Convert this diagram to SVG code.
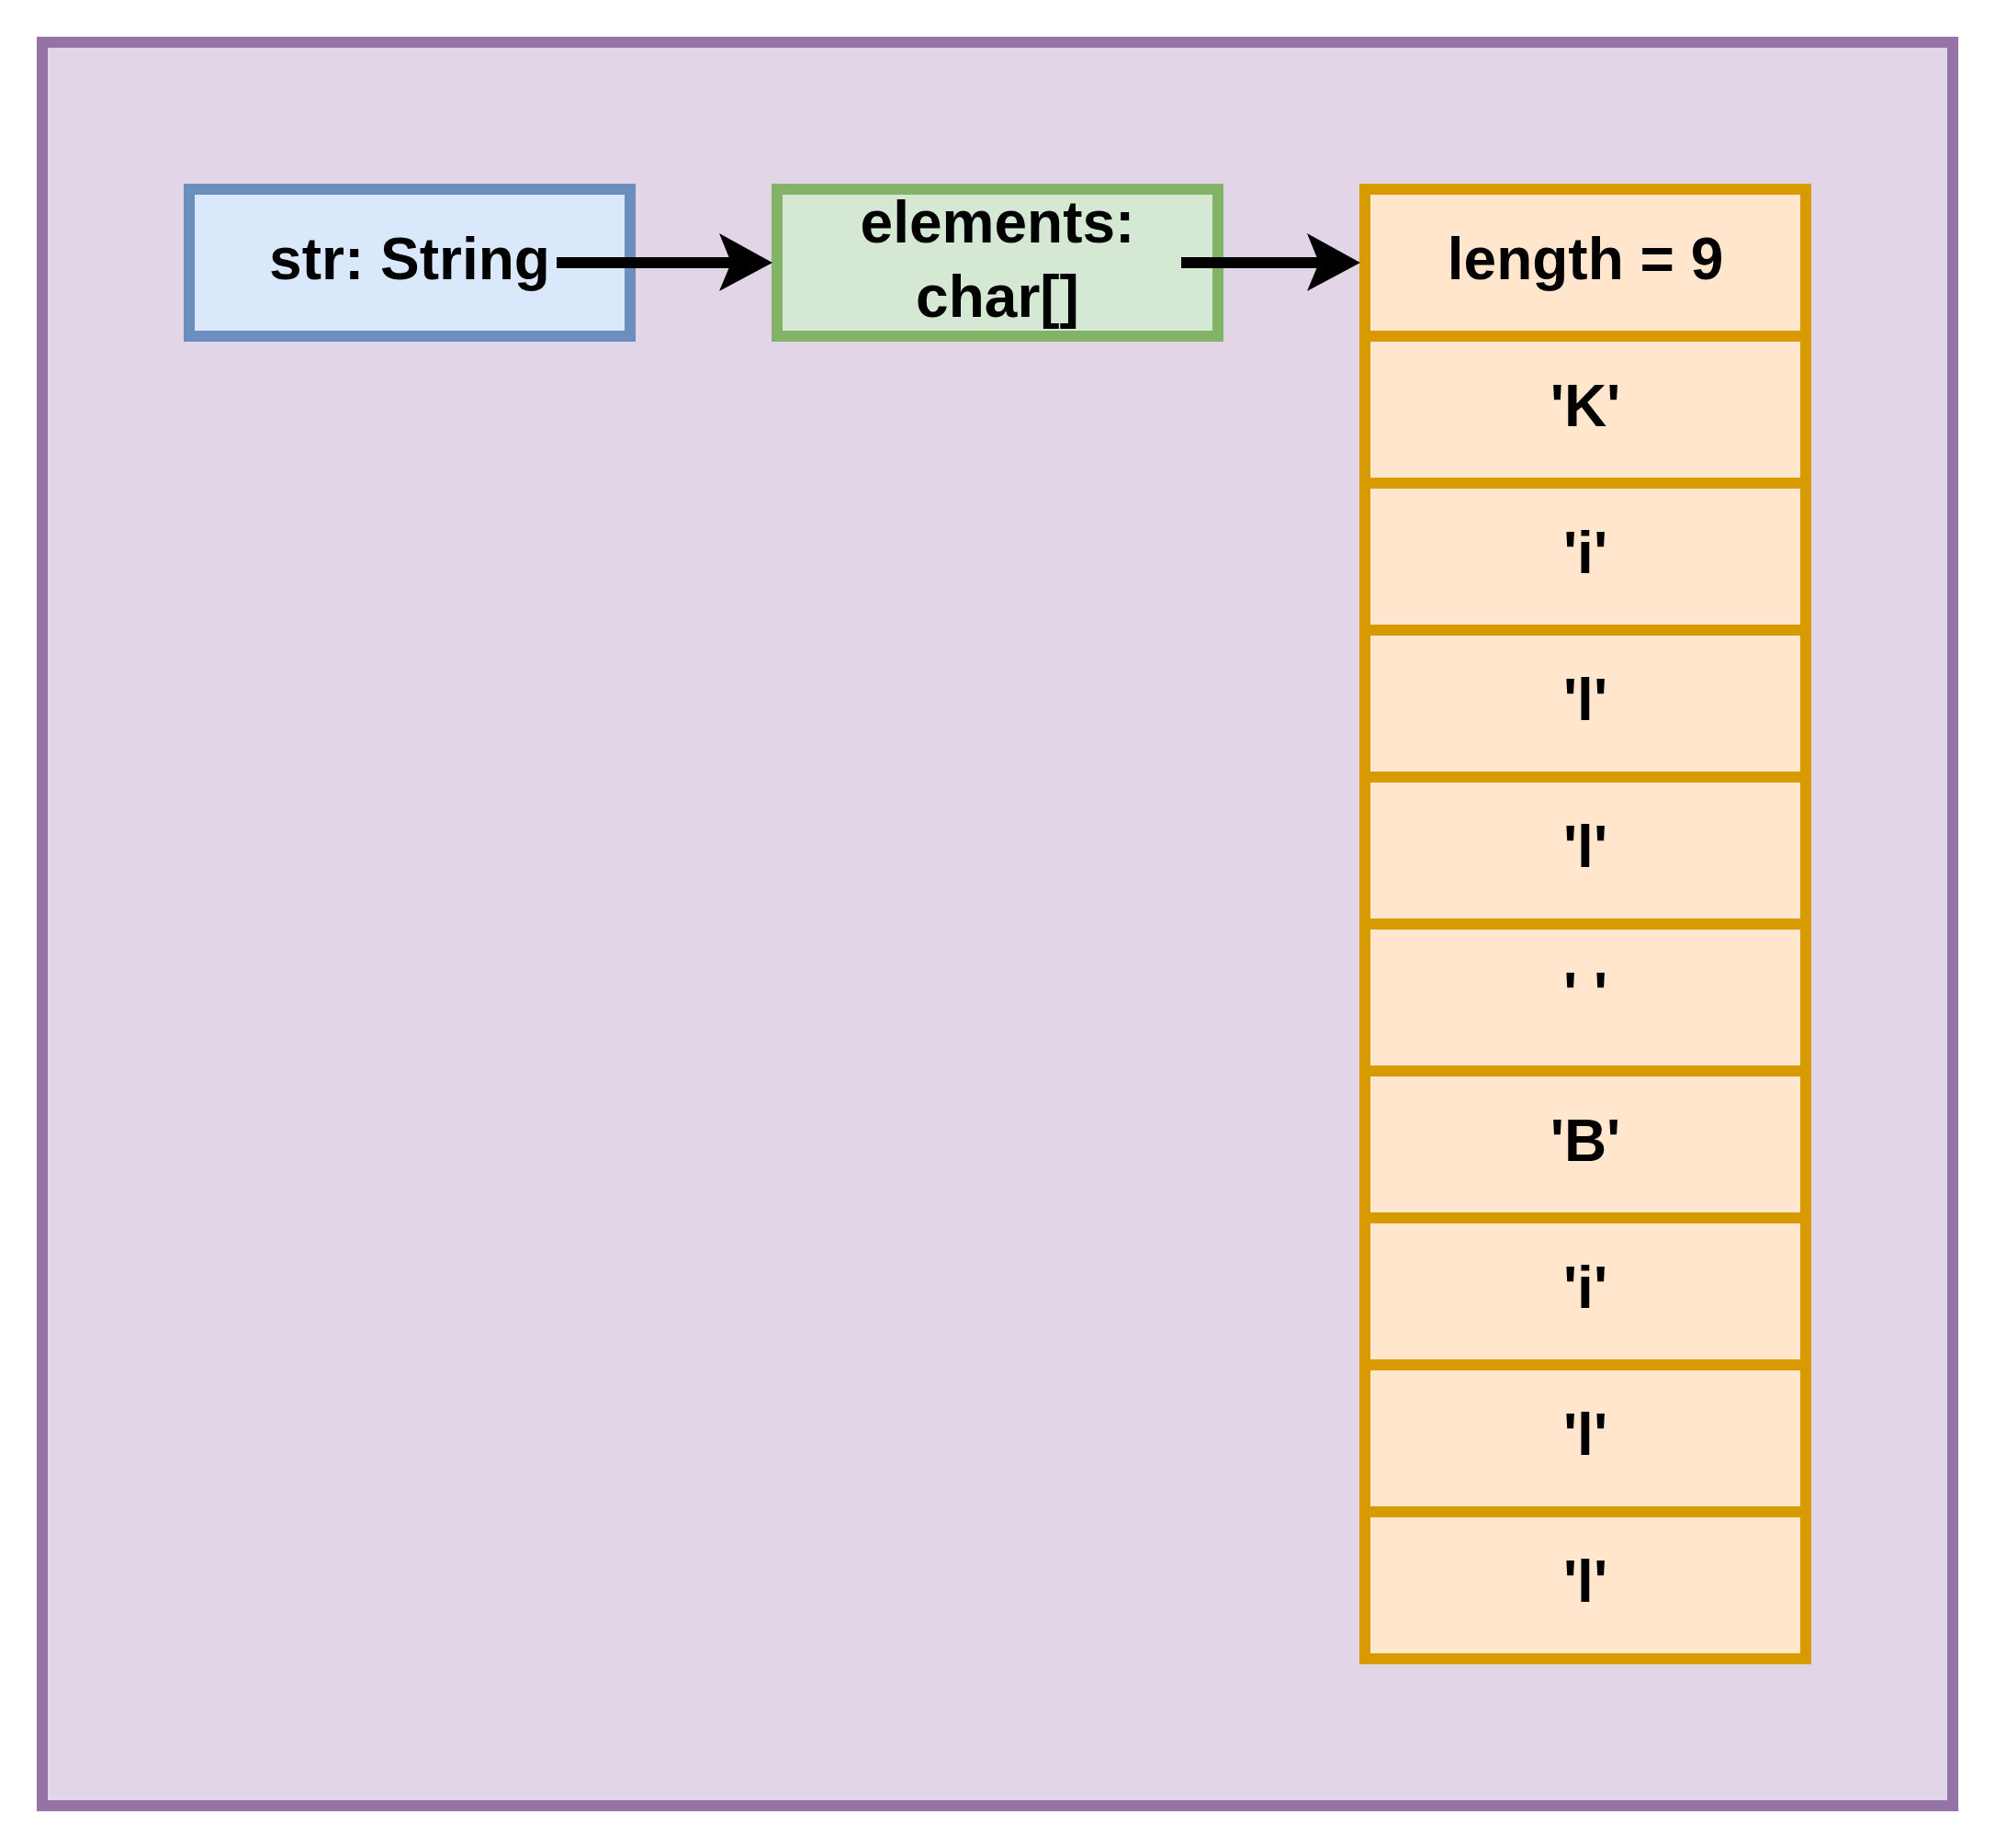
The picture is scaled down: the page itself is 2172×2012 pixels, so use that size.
<svg xmlns="http://www.w3.org/2000/svg" width="2172" height="2012" viewBox="0 0 2172 2012">
  <style>
    .box { stroke-width: 12; }
    .lbl { font-family: "Liberation Sans", Arial, Helvetica, sans-serif; font-weight: bold; font-size: 64px; fill: #000000; text-anchor: middle; }
    .edge { stroke: #000000; stroke-width: 12; fill: none; }
    .head { fill: #000000; stroke: none; }
    .cell { fill: #ffe6cc; stroke: #d79b00; stroke-width: 12; }
  </style>
  <rect width="2172" height="2012" fill="#ffffff"/>
  <g id="container">
    <rect x="46" y="46" width="2080" height="1920" fill="#e1d5e7" stroke="#9673a6" class="box"/>
  </g>
  <g id="node-str">
    <rect x="206" y="206" width="480" height="160" fill="#dae8fc" stroke="#6c8ebf" class="box"/>
    <text class="lbl" x="446" y="304">str: String</text>
  </g>
  <g id="node-elements">
    <rect x="846" y="206" width="480" height="160" fill="#d5e8d4" stroke="#82b366" class="box"/>
    <text class="lbl" x="1086" y="264">elements:</text>
    <text class="lbl" x="1086" y="345">char[]</text>
  </g>
  <g id="node-array">
    <rect class="cell" x="1486" y="206" width="480" height="160"/>
    <rect class="cell" x="1486" y="366" width="480" height="160"/>
    <rect class="cell" x="1486" y="526" width="480" height="160"/>
    <rect class="cell" x="1486" y="686" width="480" height="160"/>
    <rect class="cell" x="1486" y="846" width="480" height="160"/>
    <rect class="cell" x="1486" y="1006" width="480" height="160"/>
    <rect class="cell" x="1486" y="1166" width="480" height="160"/>
    <rect class="cell" x="1486" y="1326" width="480" height="160"/>
    <rect class="cell" x="1486" y="1486" width="480" height="160"/>
    <rect class="cell" x="1486" y="1646" width="480" height="160"/>
    <text class="lbl" x="1726" y="304">length = 9</text>
    <text class="lbl" x="1726" y="464">'K'</text>
    <text class="lbl" x="1726" y="624">'i'</text>
    <text class="lbl" x="1726" y="784">'l'</text>
    <text class="lbl" x="1726" y="944">'l'</text>
    <text class="lbl" x="1726" y="1104" xml:space="preserve">' '</text>
    <text class="lbl" x="1726" y="1264">'B'</text>
    <text class="lbl" x="1726" y="1424">'i'</text>
    <text class="lbl" x="1726" y="1584">'l'</text>
    <text class="lbl" x="1726" y="1744">'l'</text>
  </g>
  <g id="connectors">
    <line class="edge" x1="606" y1="286" x2="800" y2="286"/>
    <polygon class="head" points="841,286 783,254 796,286 783,317"/>
    <line class="edge" x1="1286" y1="286" x2="1440" y2="286"/>
    <polygon class="head" points="1481,286 1423,254 1436,286 1423,317"/>
  </g>
</svg>
